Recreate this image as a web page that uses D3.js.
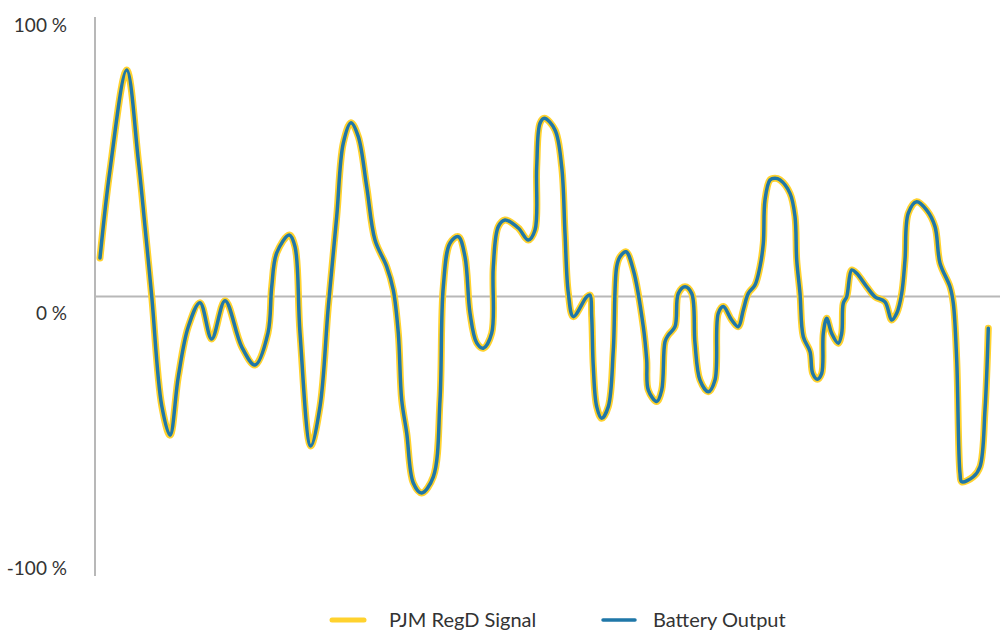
<!DOCTYPE html>
<html>
<head>
<meta charset="utf-8">
<script src="https://cdn.jsdelivr.net/npm/d3@7"></script>
<style>
  html, body { margin: 0; padding: 0; background: #fff; }
  svg { display: block; }
  text { font-family: Lato, "Open Sans", sans-serif; fill: #333; }
</style>
</head>
<body>
<svg id="chart" width="1000" height="630"></svg>
<script>
// Sample times (s) and regulation signal (% of capacity)
const times = [
  5, 15, 31.7, 43.3, 50, 56.7, 66.7, 75, 83.3, 93.3, 105, 116.7, 130, 146.7, 160, 173, 176.7, 181.7,
  194.3, 200, 205, 215.7, 225, 233.3, 241.7, 248.3, 256, 263.3, 271.7, 280, 291.7, 298.3, 303.3, 306.7, 311.7, 318.3,
  326.7, 338.3, 345, 348.3, 355, 363.3, 370, 375, 381.7, 388.3, 396.7, 398.3, 403.3, 410, 423.3, 433.3, 440, 441.7,
  445, 449.3, 460, 466.7, 470, 473.3, 478.3, 491.7, 495, 496.7, 498.3, 501.7, 506.7, 513.3, 518.3, 521.7, 525, 531,
  538.3, 548.3, 551.7, 553.3, 561.7, 566.7, 570, 573.3, 580, 583.3, 590, 596.7, 600, 605, 613.3, 620, 623.3, 628.3,
  636.7, 643.3, 648.3, 653.3, 660, 665, 668.3, 670, 675, 680, 685, 695, 700, 701.7, 705, 708.3, 715, 717.7, 722.3,
  726.7, 728.3, 731.7, 736.7, 743.3, 746.7, 748.3, 751.7, 756.7, 761.7, 771.7, 780, 790, 796.7, 801.7, 806.7, 810,
  813.3, 821.7, 831.7, 840, 845, 855, 858.3, 861.7, 865, 866.7, 878.3, 885, 890, 893.3
];
const regdSignal = [
  13.8, 45.3, 81.0, 48.8, 25.0, 0.2, -39.0, -49.6, -28.7, -10.8, -2.2, -15.2, -1.5, -18.0, -24.5, -13.0, 3.4, 15.6,
  22.0, 17.8, -13.0, -53.5, -39.4, -3.6, 28.6, 54.9, 62.2, 57.2, 39.3, 20.2, 10.7, 2.3, -13.1, -37.0, -48.8, -66.7,
  -70.3, -64.5, -37.0, 3.5, 19.1, 21.4, 14.2, -5.9, -16.6, -18.5, -13.1, 10.7, 25.0, 27.4, 24.5, 20.2, 23.8, 46.4,
  62.0, 63.8, 59.6, 46.4, 22.7, 1.3, -7.2, -0.1, 0.5, -7.2, -25.1, -39.4, -43.6, -39.4, -19.1, 10.7, 14.2, 16.0,
  9.5, -10.8, -22.7, -33.5, -37.6, -33.5, -16.2, -13.8, -10.8, 1.1, 3.5, 1.1, -16.7, -29.9, -34.1, -29.9, -6.0, -3.6,
  -8.4, -10.8, -4.8, 1.1, 4.1, 10.7, 19.0, 34.5, 41.7, 42.3, 41.7, 36.9, 28.6, 13.1, 1.1, -14.4, -19.7, -27.5, -29.6,
  -27.5, -13.2, -7.8, -13.2, -16.7, -13.2, -2.4, -0.1, 9.5, 8.3, 3.5, -0.1, -1.9, -8.4, -6.0, 1.1, 13.1, 29.8, 33.9,
  30.9, 25.0, 11.9, 3.5, -2.4, -22.7, -63.3, -66.3, -64.5, -60.9, -40.6, -11.4
];
// The battery follows the signal exactly
const batteryOutput = regdSignal.slice();

const yTicks = [100, 0, -100];
const yTickLabels = ["100 %", "0 %", "-100 %"];
const legendLabels = ["PJM RegD Signal", "Battery Output"];
const seriesColors = ["#FFD22E", "#1F77A8"];

const svg = d3.select("#chart");
const x = d3.scaleLinear().domain([0, 905]).range([95, 1000]);
const y = d3.scaleLinear().domain([-100, 100]).range([576, 17]);

// Vertical axis line and zero baseline
svg.append("line")
  .attr("x1", x(0)).attr("x2", x(0))
  .attr("y1", y(100)).attr("y2", y(-100))
  .attr("stroke", "#b8b8b8").attr("stroke-width", 2);
svg.append("line")
  .attr("x1", x(0)).attr("x2", x(905))
  .attr("y1", y(0)).attr("y2", y(0))
  .attr("stroke", "#b8b8b8").attr("stroke-width", 2);

// Tick labels
const labelDy = { "100": 15, "0": 23, "-100": -1 };
svg.append("g").selectAll("text")
  .data(yTicks)
  .join("text")
  .attr("x", 67)
  .attr("y", d => y(d) + labelDy[d])
  .attr("text-anchor", "end")
  .attr("font-size", 19)
  .text((d, i) => yTickLabels[i]);

const line = d3.line()
  .x((d, i) => x(times[i]))
  .y(d => y(d))
  .curve(d3.curveCatmullRom.alpha(0.5));

svg.append("path")
  .attr("d", line(regdSignal))
  .attr("fill", "none")
  .attr("stroke", seriesColors[0])
  .attr("stroke-width", 7)
  .attr("stroke-linejoin", "round")
  .attr("stroke-linecap", "round");

svg.append("path")
  .attr("d", line(batteryOutput))
  .attr("fill", "none")
  .attr("stroke", seriesColors[1])
  .attr("stroke-width", 3.5)
  .attr("stroke-linejoin", "round")
  .attr("stroke-linecap", "round");

// Legend
const legendX = [332, 603];
const legendTextGap = [57, 50];
const legend = svg.append("g");
legendLabels.forEach((label, i) => {
  legend.append("line")
    .attr("x1", legendX[i]).attr("x2", legendX[i] + 32)
    .attr("y1", 620).attr("y2", 620)
    .attr("stroke", seriesColors[i])
    .attr("stroke-width", i === 0 ? 5 : 3.5)
    .attr("stroke-linecap", "round");
  legend.append("text")
    .attr("x", legendX[i] + legendTextGap[i])
    .attr("y", 627)
    .attr("font-size", 20)
    .text(label);
});
</script>
</body>
</html>
